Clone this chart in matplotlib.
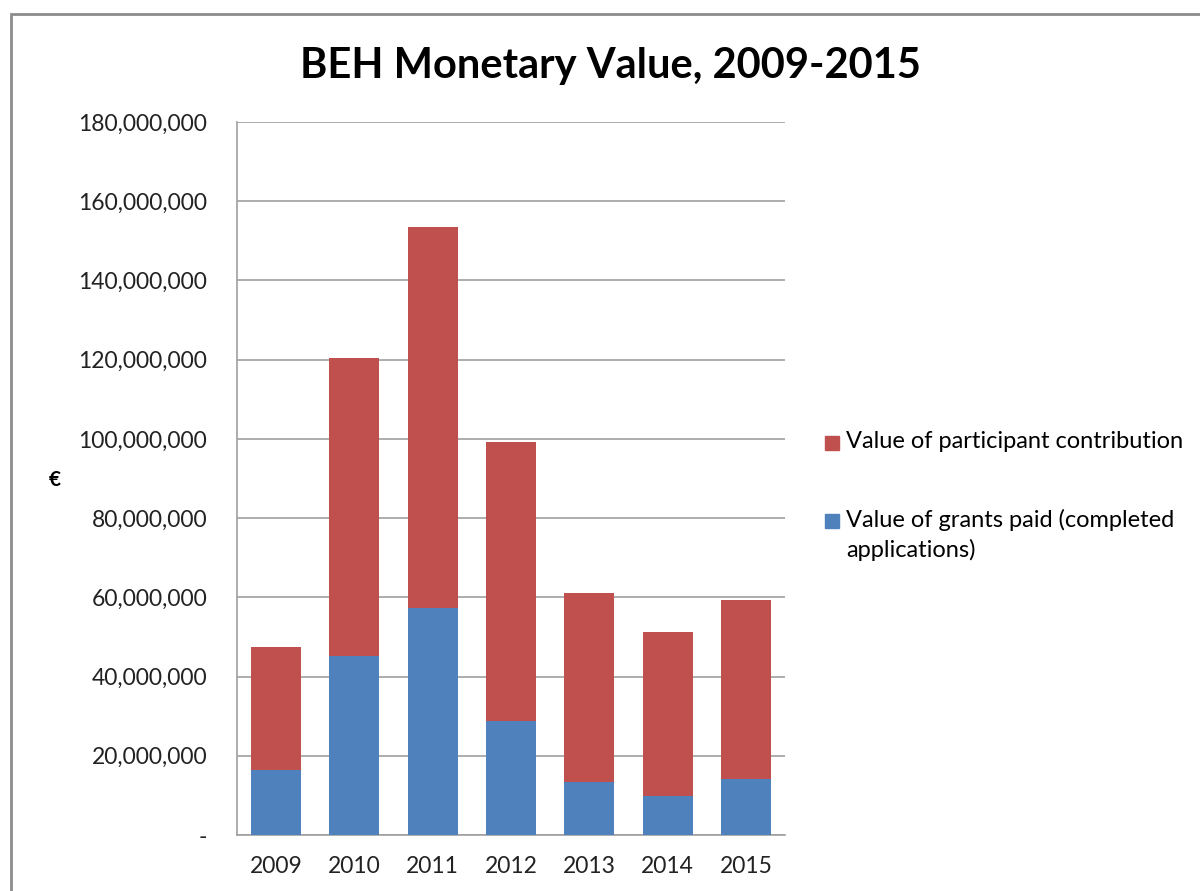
import matplotlib.pyplot as plt
from matplotlib.patches import Rectangle
from matplotlib.ticker import FuncFormatter

plt.rcParams['font.family'] = ['Lato', 'DejaVu Sans']

years = ["2009", "2010", "2011", "2012", "2013", "2014", "2015"]
grants = [16.4e6, 45.3e6, 57.4e6, 28.8e6, 13.3e6, 9.9e6, 14.1e6]
totals = [47.5e6, 120.4e6, 153.4e6, 99.2e6, 61.1e6, 51.2e6, 59.3e6]
contrib = [t - g for t, g in zip(totals, grants)]

red = "#C0504D"
blue = "#4F81BD"

fig = plt.figure(figsize=(12, 8.91), dpi=100)
ax = fig.add_axes([237 / 1200, 1 - 835 / 891, 548 / 1200, 713 / 891])

x = range(len(years))
ax.bar(x, grants, width=0.64, color=blue, zorder=3)
ax.bar(x, contrib, width=0.64, bottom=grants, color=red, zorder=3)

ax.set_ylim(0, 180e6)
ax.set_xlim(-0.5, 6.5)
ax.set_yticks([i * 20e6 for i in range(10)])
ax.yaxis.set_major_formatter(FuncFormatter(lambda v, p: "-" if v == 0 else f"{v:,.0f}"))
ax.set_xticks(list(x))
ax.set_xticklabels(years)
ax.tick_params(axis="y", length=0, pad=21.5, labelsize=16.5, colors="#222222")
ax.tick_params(axis="x", length=0, pad=15, labelsize=16.5, colors="#222222")
ax.grid(axis="y", color="#a0a0a0", linewidth=1.2, zorder=0)
for s in ["top", "right"]:
    ax.spines[s].set_visible(False)
for s in ["left", "bottom"]:
    ax.spines[s].set_color("#a0a0a0")
    ax.spines[s].set_linewidth(1.2)

fig.text(55 / 1200, 1 - 480 / 891, "€", fontsize=15, fontweight="bold",
         ha="center", va="center")
fig.text(610 / 1200, 1 - 66 / 891, "BEH Monetary Value, 2009-2015", fontsize=30,
         fontweight="bold", ha="center", va="center")

# legend
fig.patches.append(Rectangle((825 / 1200, 1 - 450 / 891), 14 / 1200, 14 / 891,
                             transform=fig.transFigure, color=red))
fig.text(846 / 1200, 1 - 441 / 891, "Value of participant contribution",
         fontsize=17, va="center")
fig.patches.append(Rectangle((825 / 1200, 1 - 528 / 891), 14 / 1200, 14 / 891,
                             transform=fig.transFigure, color=blue))
fig.text(846 / 1200, 1 - 520 / 891, "Value of grants paid (completed",
         fontsize=17, va="center")
fig.text(846 / 1200, 1 - 550 / 891, "applications)",
         fontsize=17, va="center")

# outer chart border
fig.patches.append(Rectangle((11 / 1200, -0.05), 1.1, 1 - 14 / 891 + 0.05,
                             transform=fig.transFigure, fill=False,
                             edgecolor="#8c8c8c", linewidth=2))

fig.savefig("out.png", dpi=100)
